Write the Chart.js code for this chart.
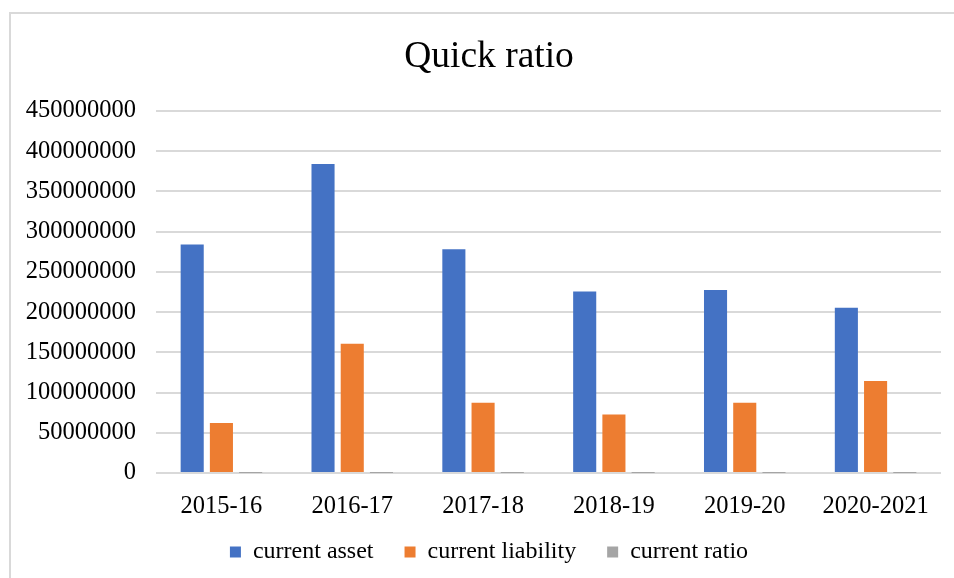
<!DOCTYPE html>
<html>
<head>
<meta charset="utf-8">
<script src="https://cdn.jsdelivr.net/npm/chart.js@4/dist/chart.umd.min.js"></script>
<style>
  html, body { margin: 0; padding: 0; background: #fff; }
  #wrap { position: relative; width: 954px; height: 578px; overflow: hidden; background: #fff; }
  #frame { position: absolute; left: 9px; top: 12px; width: 960px; height: 600px;
           border-left: 2px solid #D9D9D9; border-top: 2px solid #D9D9D9; pointer-events: none; }
  canvas { position: absolute; left: 0; top: 0; }
</style>
</head>
<body>
<div id="wrap">
  <canvas id="chart" width="954" height="574"></canvas>
  <div id="frame"></div>
</div>
<script>
// Fiscal years
const years = ['2015-16', '2016-17', '2017-18', '2018-19', '2019-20', '2020-2021'];
// Current assets per year
const currentAsset = [284000000, 384000000, 278000000, 225700000, 227400000, 205400000];
// Current liabilities per year
const currentLiability = [62000000, 160800000, 87300000, 72800000, 87300000, 114300000];
// Current ratio (tiny next to the money amounts)
const currentRatio = [4.58, 2.39, 3.18, 3.10, 2.60, 1.80];
// Value axis
const axisMax = 450000000;
const axisStep = 50000000;

const serif = "'Liberation Serif', 'Times New Roman', serif";

// let tick labels spill past their scale box instead of being clipped
const noLabelClip = (s) => { s._computeLabelArea = () => undefined; };

new Chart(document.getElementById('chart'), {
  type: 'bar',
  data: {
    labels: years,
    datasets: [
      { label: 'current asset', data: currentAsset, backgroundColor: '#4472C4' },
      { label: 'current liability', data: currentLiability, backgroundColor: '#ED7D31' },
      { label: 'current ratio', data: currentRatio, backgroundColor: '#A5A5A5' }
    ]
  },
  options: {
    responsive: false,
    animation: false,
    devicePixelRatio: 1,
    layout: { padding: { left: 37, right: 13, top: 0, bottom: 0 } },
    datasets: { bar: { categoryPercentage: 0.67, barPercentage: 0.79 } },
    plugins: {
      tooltip: { enabled: false },
      title: {
        display: true,
        text: 'Quick ratio',
        color: '#000',
        font: { family: serif, size: 37.5, weight: 'normal' },
        padding: { top: 35, bottom: 31 }
      },
      legend: {
        position: 'bottom',
        labels: {
          color: '#000',
          font: { family: serif, size: 24 },
          boxWidth: 11,
          boxHeight: 11,
          padding: 31
        }
      }
    },
    scales: {
      x: {
        grid: { display: false },
        border: { display: false },
        ticks: { color: '#000', font: { family: serif, size: 24.5 }, padding: 11, maxRotation: 0 },
        afterFit: (s) => { s.height = 36; noLabelClip(s); }
      },
      y: {
        min: 0,
        max: axisMax,
        grid: { color: '#D9D9D9', lineWidth: 2, drawTicks: false },
        border: { display: false },
        ticks: {
          stepSize: axisStep,
          color: '#000',
          font: { family: serif, size: 24.5 },
          padding: 20,
          callback: (v) => String(v)
        },
        afterFit: (s) => { s.width = 119; noLabelClip(s); }
      }
    }
  }
});
</script>
</body>
</html>
